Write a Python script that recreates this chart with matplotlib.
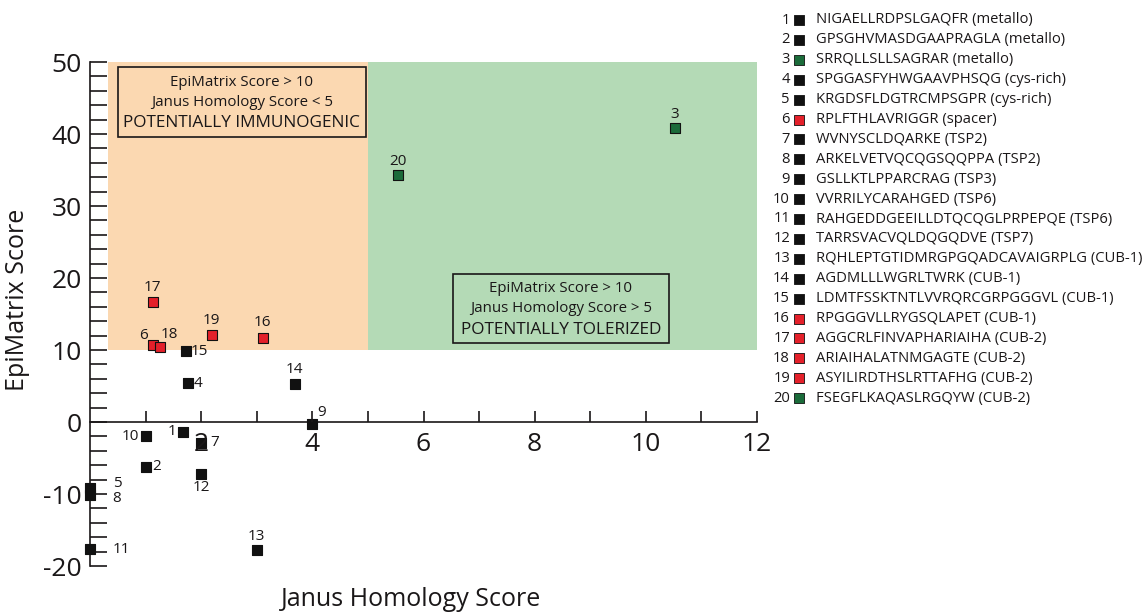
import matplotlib
matplotlib.use('Agg')
import matplotlib.pyplot as plt
from matplotlib.patches import Rectangle
from matplotlib.ticker import FixedLocator, FuncFormatter

plt.rcParams['font.family'] = ['Open Sans', 'DejaVu Sans']

# ---------------- data ----------------
ids = list(range(1, 21))
janus = [1.67, 1.0, 10.52, 1.76, 0.0, 1.13, 2.0, 0.0, 4.0, 1.0,
         0.0, 2.0, 3.0, 3.68, 1.72, 3.11, 1.13, 1.26, 2.19, 5.54]
epimatrix = [-1.4, -6.2, 40.8, 5.4, -9.2, 10.7, -2.9, -10.1, -0.3, -2.0,
             -17.7, -7.2, -17.8, 5.3, 9.8, 11.7, 16.7, 10.4, 12.1, 34.3]
groups = ['none', 'none', 'tol', 'none', 'none', 'imm', 'none', 'none', 'none', 'none',
          'none', 'none', 'none', 'none', 'none', 'imm', 'imm', 'imm', 'imm', 'tol']
sequences = ['NIGAELLRDPSLGAQFR', 'GPSGHVMASDGAAPRAGLA', 'SRRQLLSLLSAGRAR',
             'SPGGASFYHWGAAVPHSQG', 'KRGDSFLDGTRCMPSGPR', 'RPLFTHLAVRIGGR',
             'WVNYSCLDQARKE', 'ARKELVETVQCQGSQQPPA', 'GSLLKTLPPARCRAG',
             'VVRRILYCARAHGED', 'RAHGEDDGEEILLDTQCQGLPRPEPQE', 'TARRSVACVQLDQGQDVE',
             'RQHLEPTGTIDMRGPGQADCAVAIGRPLG', 'AGDMLLLWGRLTWRK',
             'LDMTFSSKTNTLVVRQRCGRPGGGVL', 'RPGGGVLLRYGSQLAPET',
             'AGGCRLFINVAPHARIAIHA', 'ARIAIHALATNMGAGTE', 'ASYILIRDTHSLRTTAFHG',
             'FSEGFLKAQASLRGQYW']
domains = ['metallo', 'metallo', 'metallo', 'cys-rich', 'cys-rich', 'spacer',
           'TSP2', 'TSP2', 'TSP3', 'TSP6', 'TSP6', 'TSP7', 'CUB-1', 'CUB-1',
           'CUB-1', 'CUB-1', 'CUB-2', 'CUB-2', 'CUB-2', 'CUB-2']
x_ticks = [2, 4, 6, 8, 10, 12]
y_ticks = [-20, -10, 0, 10, 20, 30, 40, 50]
epi_threshold = 10
janus_threshold = 5

# ---------------- style ----------------
colors = {'none': '#111111', 'imm': '#e4202a', 'tol': '#1b6b3a'}
bg_orange = '#fbd8b1'
bg_green = '#b4dab6'
ink = '#1a1718'
# label offsets in pixels (dx, dy) with dy positive upward
label_off = {1: (-11, 1), 2: (11, 0), 3: (0, 14), 4: (10, 0), 5: (27, 5),
             6: (-9, 9), 7: (13, 0), 8: (27, -4), 9: (9, 12), 10: (-15, 0),
             11: (31, 0), 12: (0, -14), 13: (0, 14), 14: (0, 14), 15: (14, 0),
             16: (0, 15), 17: (0, 14), 18: (9, 13), 19: (0, 14), 20: (0, 14)}

W, H = 1142, 613
fig = plt.figure(figsize=(W / 100, H / 100), dpi=100)
ax_l, ax_r = 90, 757
ax_t, ax_b = 62, 566
ax = fig.add_axes([ax_l / W, 1 - ax_b / H, (ax_r - ax_l) / W, (ax_b - ax_t) / H])
ax.set_xlim(0, 12)
ax.set_ylim(-20, 50)

# background quadrants
ax.add_patch(Rectangle((0.32, epi_threshold), janus_threshold - 0.32, 50 - epi_threshold,
                       facecolor=bg_orange, edgecolor='none', zorder=0))
ax.add_patch(Rectangle((janus_threshold, epi_threshold), 12 - janus_threshold, 50 - epi_threshold,
                       facecolor=bg_green, edgecolor='none', zorder=0))

# spines
for s in ['top', 'right']:
    ax.spines[s].set_visible(False)
ax.spines['left'].set_position(('data', 0))
ax.spines['bottom'].set_position(('data', 0))
ax.spines['left'].set_bounds(-20, 50)
ax.spines['bottom'].set_bounds(0, 12)
for s in ['left', 'bottom']:
    ax.spines[s].set_color(ink)
    ax.spines[s].set_linewidth(1.2)

ax.xaxis.set_major_locator(FixedLocator(list(range(1, 13))))
ax.xaxis.set_major_formatter(FuncFormatter(lambda v, p: f'{int(v)}' if int(round(v)) in x_ticks else ''))
ax.yaxis.set_major_locator(FixedLocator(list(range(-20, 51, 2))))
ax.yaxis.set_major_formatter(FuncFormatter(lambda v, p: f'{int(v)}' if int(round(v)) in y_ticks else ''))
ax.tick_params(axis='x', direction='in', length=8, width=1.2, color=ink, pad=7,
               labelsize=19, labelcolor=ink)
ax.tick_params(axis='y', direction='in', length=12, width=1.2, color=ink, pad=6,
               labelsize=19, labelcolor=ink)
ax.xaxis.set_zorder(4.5)
ax.set_facecolor('none')

# points
for i in range(len(ids)):
    ax.scatter(janus[i], epimatrix[i], marker='s', s=50, facecolor=colors[groups[i]],
               edgecolor='#111111', linewidth=0.8, zorder=4, clip_on=False)
    dx, dy = label_off[ids[i]]
    ax.annotate(str(ids[i]), (janus[i], epimatrix[i]), xytext=(dx, dy),
                textcoords='offset pixels', ha='center', va='center',
                fontsize=11, color=ink, zorder=5, annotation_clip=False)

# annotation boxes
ax.add_patch(Rectangle((0.50, 39.6), 4.47, 9.7, facecolor='none', edgecolor=ink,
                       linewidth=1.2, zorder=3))
ax.text(2.73, 47.2, 'EpiMatrix Score > 10', ha='center', va='center', fontsize=10.8, color=ink)
ax.text(2.73, 44.4, 'Janus Homology Score < 5', ha='center', va='center', fontsize=10.8, color=ink)
ax.text(2.73, 41.5, 'POTENTIALLY IMMUNOGENIC', ha='center', va='center', fontsize=12.4, color=ink)

ax.add_patch(Rectangle((6.53, 11.0), 3.89, 9.6, facecolor='none', edgecolor=ink,
                       linewidth=1.2, zorder=3))
ax.text(8.47, 18.6, 'EpiMatrix Score > 10', ha='center', va='center', fontsize=10.8, color=ink)
ax.text(8.47, 15.8, 'Janus Homology Score > 5', ha='center', va='center', fontsize=10.8, color=ink)
ax.text(8.47, 12.8, 'POTENTIALLY TOLERIZED', ha='center', va='center', fontsize=12.4, color=ink)

# axis labels
fig.text(18 / W, 1 - 300 / H, 'EpiMatrix Score', rotation=90, ha='center', va='center',
         fontsize=18, color=ink)
fig.text(411 / W, 1 - 599 / H, 'Janus Homology Score', ha='center', va='center',
         fontsize=18, color=ink)

# legend (pixel-coordinate axes)
lg = fig.add_axes([0, 0, 1, 1])
lg.set_xlim(0, W)
lg.set_ylim(H, 0)
lg.axis('off')
row0, step = 20, 19.9
for i in range(len(ids)):
    y = row0 + i * step
    lg.text(790, y, str(ids[i]), ha='right', va='center', fontsize=10.6, color=ink)
    lg.scatter(799, y, marker='s', s=55, facecolor=colors[groups[i]],
               edgecolor='#111111', linewidth=0.6)
    lg.text(816, y, f'{sequences[i]} ({domains[i]})', ha='left', va='center',
            fontsize=10.6, color=ink)

fig.savefig('out.png', dpi=100)
